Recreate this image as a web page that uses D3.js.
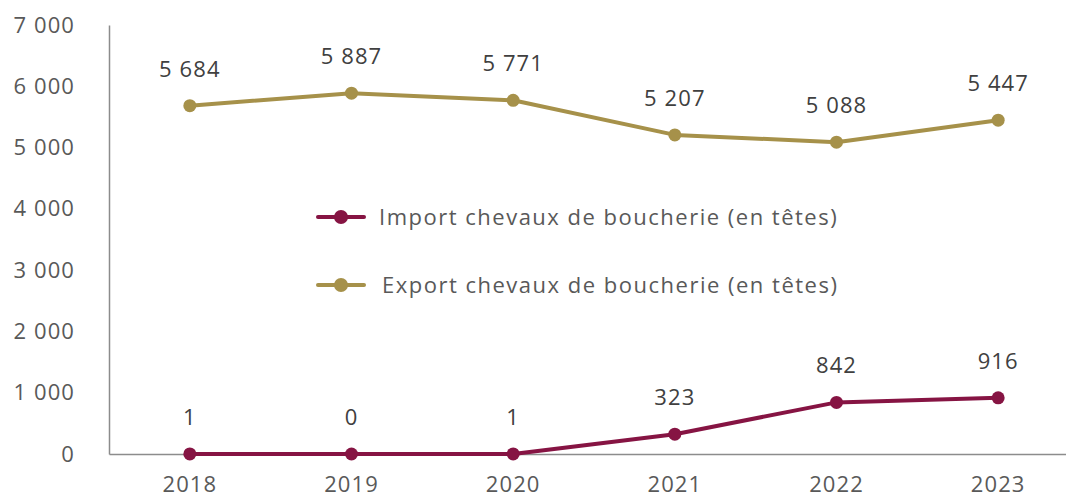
<!DOCTYPE html>
<html>
<head>
<meta charset="utf-8">
<script src="https://cdn.jsdelivr.net/npm/d3@7"></script>
<style>
  html, body { margin: 0; padding: 0; background: #fff; }
  svg { display: block; font-family: "Open Sans", sans-serif; }
  text { letter-spacing: 1.1px; }
  .legend text { letter-spacing: 1.5px; }
</style>
</head>
<body>
<svg id="chart" width="1066" height="499"></svg>
<script>
// Years on the x axis
const years = ["2018", "2019", "2020", "2021", "2022", "2023"];
// Slaughter horses, number of heads
const importHeads = [1, 0, 1, 323, 842, 916];
const exportHeads = [5684, 5887, 5771, 5207, 5088, 5447];
// Y axis ticks
const yTicks = [0, 1000, 2000, 3000, 4000, 5000, 6000, 7000];

const series = [
  { name: "Import chevaux de boucherie (en têtes)", values: importHeads, color: "#861443" },
  { name: "Export chevaux de boucherie (en têtes)", values: exportHeads, color: "#a6914a" }
];

const FONT = "'Open Sans', sans-serif";
const FS = 22;
const svg = d3.select("#chart");
const fmt = v => d3.format(",")(v).replace(/,/g, " ");

const x = d3.scaleBand().domain(years).range([109, 1079]);
const y = d3.scaleLinear().domain([0, 7000]).range([454, 25]);

// Y axis
const yAxis = svg.append("g")
  .attr("transform", "translate(109,0)")
  .call(d3.axisLeft(y).tickValues(yTicks).tickSize(0).tickPadding(34).tickFormat(fmt));
yAxis.select(".domain").attr("stroke", "#8c8c8c").attr("stroke-width", 1.5);
yAxis.selectAll("text").attr("fill", "#595959").attr("font-size", FS)
  .attr("font-family", FONT);

// X axis
const xAxis = svg.append("g")
  .attr("transform", "translate(0,454)")
  .call(d3.axisBottom(x).tickSize(0).tickPadding(22));
xAxis.select(".domain").attr("stroke", "#8c8c8c").attr("stroke-width", 1.5);
xAxis.selectAll("text").attr("fill", "#595959").attr("font-size", FS)
  .attr("font-family", FONT);

const cx = d => x(d) + x.bandwidth() / 2;
const line = d3.line().x((d, i) => cx(years[i])).y(d => y(d));

series.forEach(s => {
  svg.append("path")
    .datum(s.values)
    .attr("fill", "none")
    .attr("stroke", s.color)
    .attr("stroke-width", 4)
    .attr("stroke-linejoin", "round")
    .attr("d", line);
  svg.append("g").selectAll("circle")
    .data(s.values)
    .join("circle")
    .attr("cx", (d, i) => cx(years[i]))
    .attr("cy", d => y(d))
    .attr("r", 6.5)
    .attr("fill", s.color);
  svg.append("g").selectAll("text")
    .data(s.values)
    .join("text")
    .attr("x", (d, i) => cx(years[i]))
    .attr("y", d => y(d) - 29)
    .attr("text-anchor", "middle")
    .attr("font-size", FS)
    .attr("fill", "#404040")
    .text(d => fmt(d));
});

// Legend
const legend = svg.append("g").attr("class", "legend");
series.forEach((s, i) => {
  const ly = 217 + i * 68;
  legend.append("line")
    .attr("x1", 318).attr("x2", 364).attr("y1", ly).attr("y2", ly)
    .attr("stroke", s.color).attr("stroke-width", 4).attr("stroke-linecap", "round");
  legend.append("circle").attr("cx", 341).attr("cy", ly).attr("r", 7).attr("fill", s.color);
  legend.append("text")
    .attr("x", 379 + i * 3).attr("y", ly).attr("dy", "0.35em")
    .attr("font-size", FS).attr("fill", "#595959")
    .text(s.name);
});
</script>
</body>
</html>
